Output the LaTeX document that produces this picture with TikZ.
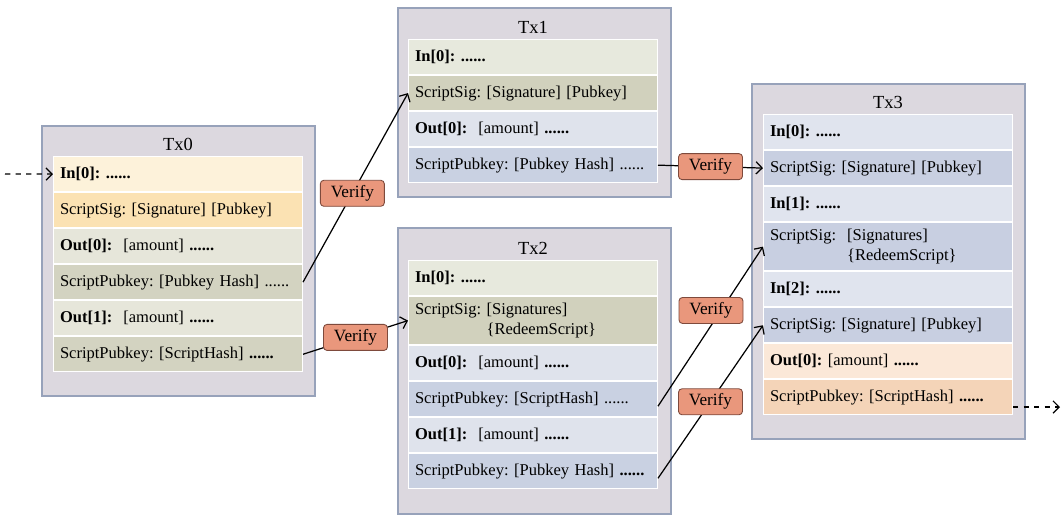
\documentclass[tikz,border=0pt]{standalone}
\usepackage{fontspec}
\setmainfont{Liberation Serif}
\usetikzlibrary{positioning,arrows.meta}

\definecolor{boxfill}{HTML}{DCD8DF}
\definecolor{boxline}{HTML}{97A2BA}
\definecolor{inA}{HTML}{FDF2DA}
\definecolor{sigA}{HTML}{FBE2B3}
\definecolor{outA}{HTML}{E6E6DA}
\definecolor{pubA}{HTML}{D3D3C1}
\definecolor{inB}{HTML}{E7E9DD}
\definecolor{sigB}{HTML}{D1D1BD}
\definecolor{outB}{HTML}{DFE3EC}
\definecolor{pubB}{HTML}{C9D1E2}
\definecolor{inC}{HTML}{E0E4EE}
\definecolor{sigC}{HTML}{C8CFE1}
\definecolor{outC}{HTML}{FBE8D8}
\definecolor{pubC}{HTML}{F4D4B8}
\definecolor{verifyfill}{HTML}{E9977C}
\definecolor{verifyline}{HTML}{7E4A3C}

\begin{document}
\frenchspacing
\begin{tikzpicture}[
  x=0.02cm, y=-0.02cm,
  every node/.style={font=\fontsize{9.4}{11}\selectfont},
  txbox/.style={
    draw=boxline, fill=boxfill, line width=0.9pt,
    anchor=north west, minimum width=5.46cm,
  },
  txname/.style={font=\fontsize{10.5}{12}\selectfont, inner sep=1pt},
  row/.style={
    fill=#1, draw=white, line width=0.6pt,
    text width=4.72cm, minimum height=0.70cm,
    inner xsep=0.13cm, align=left,
  },
  tallrow/.style={row=#1, minimum height=0.96cm},
  verify/.style={
    draw=verifyline, fill=verifyfill, rounded corners=2pt, line width=0.5pt,
    minimum width=1.28cm, minimum height=0.52cm, inner sep=1pt,
    font=\fontsize{9.8}{11}\selectfont,
  },
  link/.style={-{Straight Barb[length=3.5pt,width=7pt]}, line width=0.7pt},
  ]
  \useasboundingbox (0,0) rectangle (1063,515);

  \node[txbox, minimum height=5.4cm] (tx0) at (41,125) {};
  \node[row=inA, anchor=north west] (t0r1) at (53,156) {\textbf{In[0]: ......}};
  \node[row=sigA, below=0pt of t0r1] (t0r2) {ScriptSig: [Signature] [Pubkey]};
  \node[row=outA, below=0pt of t0r2] (t0r3) {\textbf{Out[0]:}\ \ [amount] \textbf{......}};
  \node[row=pubA, below=0pt of t0r3] (t0r4) {ScriptPubkey: [Pubkey Hash] ......};
  \node[row=outA, below=0pt of t0r4] (t0r5) {\textbf{Out[1]:}\ \ [amount] \textbf{......}};
  \node[row=pubA, below=0pt of t0r5] (t0r6) {ScriptPubkey: [ScriptHash] \textbf{......}};
  \node[txname, above=2pt of t0r1] {Tx0};

  \node[txbox, minimum height=3.78cm] (tx1) at (397,7) {};
  \node[row=inB, anchor=north west] (t1r1) at (408,39) {\textbf{In[0]: ......}};
  \node[row=sigB, below=0pt of t1r1] (t1r2) {ScriptSig: [Signature] [Pubkey]};
  \node[row=outB, below=0pt of t1r2] (t1r3) {\textbf{Out[0]:}\ \ [amount] \textbf{......}};
  \node[row=pubB, below=0pt of t1r3] (t1r4) {ScriptPubkey: [Pubkey Hash] ......};
  \node[txname, above=2pt of t1r1] {Tx1};

  \node[txbox, minimum height=5.72cm] (tx2) at (397,227) {};
  \node[row=inB, anchor=north west] (t2r1) at (408,260) {\textbf{In[0]: ......}};
  \node[tallrow=sigB, below=0pt of t2r1] (t2r2) {ScriptSig: [Signatures]\\\phantom{ScriptSig: }\{RedeemScript\}};
  \node[row=outB, below=0pt of t2r2] (t2r3) {\textbf{Out[0]:}\ \ [amount] \textbf{......}};
  \node[row=pubB, below=0pt of t2r3] (t2r4) {ScriptPubkey: [ScriptHash] ......};
  \node[row=outB, below=0pt of t2r4] (t2r5) {\textbf{Out[1]:}\ \ [amount] \textbf{......}};
  \node[row=pubB, below=0pt of t2r5] (t2r6) {ScriptPubkey: [Pubkey Hash] \textbf{......}};
  \node[txname, above=2pt of t2r1] {Tx2};

  \node[txbox, minimum height=7.1cm] (tx3) at (751,83) {};
  \node[row=inC, anchor=north west] (t3r1) at (763,114) {\textbf{In[0]: ......}};
  \node[row=sigC, below=0pt of t3r1] (t3r2) {ScriptSig: [Signature] [Pubkey]};
  \node[row=inC, below=0pt of t3r2] (t3r3) {\textbf{In[1]: ......}};
  \node[tallrow=sigC, below=0pt of t3r3] (t3r4) {ScriptSig:\ \ [Signatures]\\\phantom{ScriptSig:\ \ }\{RedeemScript\}};
  \node[row=inC, below=0pt of t3r4] (t3r5) {\textbf{In[2]: ......}};
  \node[row=sigC, below=0pt of t3r5] (t3r6) {ScriptSig: [Signature] [Pubkey]};
  \node[row=outC, below=0pt of t3r6] (t3r7) {\textbf{Out[0]:} [amount] \textbf{......}};
  \node[row=pubC, below=0pt of t3r7] (t3r8) {ScriptPubkey: [ScriptHash] \textbf{......}};
  \node[txname, above=2pt of t3r1] {Tx3};

  \coordinate (prev) at (5,174);
  \coordinate (next) at (1060,407);
  \draw[link, dashed] (prev) -- (t0r1.west);
  \draw[link, dashed] (t3r8.east |- next) -- (next);

  \draw[link] (t0r4.east) -- node[verify, pos=0.47] (v1) {Verify} (t1r2.west);
  \draw[link] (t0r6.east) -- node[verify] (v2) {Verify} (t2r2.west);
  \draw[link] (t1r4.east) -- node[verify] (v3) {Verify} (t3r2.west);
  \draw[link] ([yshift=-4pt]t2r4.east) -- node[verify, pos=0.6, xshift=-0.2cm] (v4) {Verify} (t3r4.west);
  \draw[link] ([yshift=-4pt]t2r6.east) -- node[verify] (v5) {Verify} (t3r6.west);
\end{tikzpicture}
\end{document}
